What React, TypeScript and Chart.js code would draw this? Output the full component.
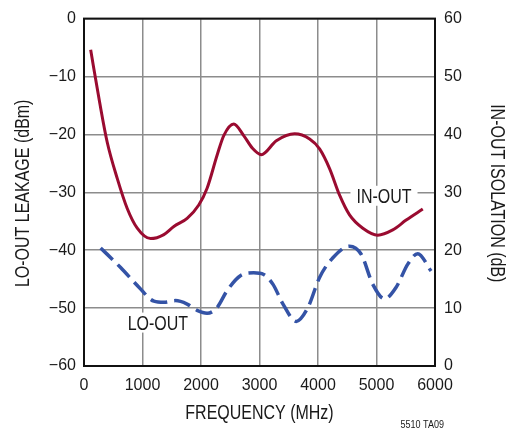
import React, { useEffect, useRef } from "react";
import { Chart, registerables } from "chart.js";

Chart.register(...registerables);

// IN-OUT isolation (right axis, dB)
const IN_OUT_FREQ = [114, 268, 398, 568, 739, 910, 1138, 1365, 1536, 1763, 1962, 2104, 2275, 2389, 2560, 2730, 2880, 3030, 3288, 3600, 3857, 4027, 4198, 4369, 4539, 4766, 5022, 5278, 5507, 5791];
const IN_OUT_DB = [54.6, 45.5, 38.6, 32.4, 27.2, 23.8, 22.0, 22.7, 24.1, 25.5, 27.8, 30.7, 36.4, 39.8, 41.8, 39.8, 37.6, 36.5, 38.9, 40.1, 39.2, 37.5, 34.1, 29.5, 26.1, 23.8, 22.6, 23.5, 25.2, 27.1];

// LO-OUT leakage (left axis, dBm)
const LO_OUT_FREQ = [284, 626, 939, 1195, 1365, 1564, 1763, 1933, 2104, 2275, 2445, 2673, 2901, 3072, 3231, 3402, 3629, 3828, 4027, 4255, 4539, 4738, 4937, 5137, 5336, 5535, 5705, 5933];
const LO_OUT_DBM = [-39.6, -43.0, -46.4, -48.8, -49.0, -48.7, -49.3, -50.4, -50.9, -49.9, -47.0, -44.4, -43.9, -44.2, -45.9, -49.3, -52.3, -49.9, -44.7, -41.3, -39.3, -40.7, -45.9, -48.4, -46.4, -42.4, -40.6, -43.6];

// Curve labels (data coordinates: frequency, left-axis dBm)
const LABEL_TEXT = ["IN-OUT", "LO-OUT"];
const LABEL_FREQ = [5128, 1263];
const LABEL_DBM = [-30.6, -52.5];

const X_TITLE = "FREQUENCY (MHz)";
const Y_LEFT_TITLE = "LO-OUT LEAKAGE (dBm)";
const Y_RIGHT_TITLE = "IN-OUT ISOLATION (dB)";
const NOTE = "5510 TA09";

const REG = '"Liberation Sans", Arial, sans-serif';
const TXT = "#1a1a1a";
const SQUEEZE = 0.82;

function narrowText(ctx: CanvasRenderingContext2D, text: string, x: number, y: number, rot: number, size: number, align: CanvasTextAlign = "center") {
  ctx.save();
  ctx.translate(x, y);
  ctx.rotate(rot);
  ctx.scale(SQUEEZE, 1);
  ctx.font = `${size}px ${REG}`;
  ctx.fillStyle = TXT;
  ctx.textAlign = align;
  ctx.textBaseline = "alphabetic";
  ctx.fillText(text, 0, 0);
  ctx.restore();
}

const annotPlugin = {
  id: "annot",
  beforeDatasetsDraw(chart: any) {
    const ctx = chart.ctx as CanvasRenderingContext2D;
    const xs = chart.scales.x;
    const ys = chart.scales.y;
    ctx.save();
    ctx.font = `19.5px ${REG}`;
    LABEL_TEXT.forEach((t, i) => {
      const px = xs.getPixelForValue(LABEL_FREQ[i]);
      const py = ys.getPixelForValue(LABEL_DBM[i]);
      const w = ctx.measureText(t).width * SQUEEZE;
      ctx.fillStyle = "#ffffff";
      ctx.fillRect(px - w / 2 - 6, py - 10, w + 12, 20);
      narrowText(ctx, t, px, py + 7, 0, 19.5);
    });
    ctx.restore();
  },
  afterDatasetsDraw(chart: any) {
    const ctx = chart.ctx;
    const a = chart.chartArea;
    ctx.save();
    ctx.strokeStyle = "#111";
    ctx.lineWidth = 2;
    ctx.strokeRect(a.left, a.top, a.right - a.left, a.bottom - a.top);
    ctx.restore();
  },
  afterDraw(chart: any) {
    const ctx = chart.ctx as CanvasRenderingContext2D;
    const a = chart.chartArea;
    const cx = (a.left + a.right) / 2;
    const cy = (a.top + a.bottom) / 2 + 1;
    narrowText(ctx, X_TITLE, cx, 419, 0, 19.5);
    narrowText(ctx, Y_LEFT_TITLE, 29, cy, -Math.PI / 2, 19.5);
    narrowText(ctx, Y_RIGHT_TITLE, 491, cy, Math.PI / 2, 19.5);
    narrowText(ctx, NOTE, a.right + 9, 428, 0, 11, "right");
  },
};

export default function App() {
  const ref = useRef<HTMLCanvasElement | null>(null);
  useEffect(() => {
    if (!ref.current) return;
    const minus = (v: any) => String(v).replace("-", "\u2212");
    const chart = new Chart(ref.current, {
      type: "line",
      data: {
        datasets: [
          {
            label: "IN-OUT",
            data: IN_OUT_FREQ.map((f, i) => ({ x: f, y: IN_OUT_DB[i] })),
            yAxisID: "y2",
            borderColor: "#9a0b30",
            borderWidth: 3,
            pointRadius: 0,
            cubicInterpolationMode: "monotone",
            fill: false,
          },
          {
            label: "LO-OUT",
            data: LO_OUT_FREQ.map((f, i) => ({ x: f, y: LO_OUT_DBM[i] })),
            yAxisID: "y",
            borderColor: "#3453a6",
            borderWidth: 3.5,
            borderDash: [17, 7],
            pointRadius: 0,
            cubicInterpolationMode: "monotone",
            fill: false,
          },
        ],
      },
      options: {
        responsive: false,
        animation: false,
        layout: { padding: { top: 15, left: 0, right: 0, bottom: 0 } },
        plugins: { legend: { display: false }, tooltip: { enabled: false } },
        scales: {
          x: {
            type: "linear",
            min: 0,
            max: 6000,
            afterFit: (s: any) => { s.height = 65; },
            ticks: { stepSize: 1000, padding: 10, color: TXT, font: { family: REG, size: 16 }, maxRotation: 0, callback: (v: any) => String(v) },
            grid: { color: "#8c8c8c", lineWidth: 1.5, drawTicks: false },
            border: { display: false },
          },
          y: {
            position: "left",
            min: -60,
            max: 0,
            afterFit: (s: any) => { s.width = 84; },
            ticks: { stepSize: 10, padding: 8, color: TXT, font: { family: REG, size: 16 }, callback: minus },
            grid: { color: "#8c8c8c", lineWidth: 1.5, drawTicks: false },
            border: { display: false },
          },
          y2: {
            position: "right",
            min: 0,
            max: 60,
            afterFit: (s: any) => { s.width = 81; },
            ticks: { stepSize: 10, padding: 9, color: TXT, font: { family: REG, size: 16 } },
            grid: { display: false, drawTicks: false },
            border: { display: false },
          },
        },
      },
      plugins: [annotPlugin],
    } as any);
    return () => chart.destroy();
  }, []);
  return (
    <div style={{ position: "fixed", left: 0, top: 0, width: 516, height: 431, background: "#fff" }}>
      <canvas ref={ref} width={516} height={431} style={{ display: "block" }} />
    </div>
  );
}
